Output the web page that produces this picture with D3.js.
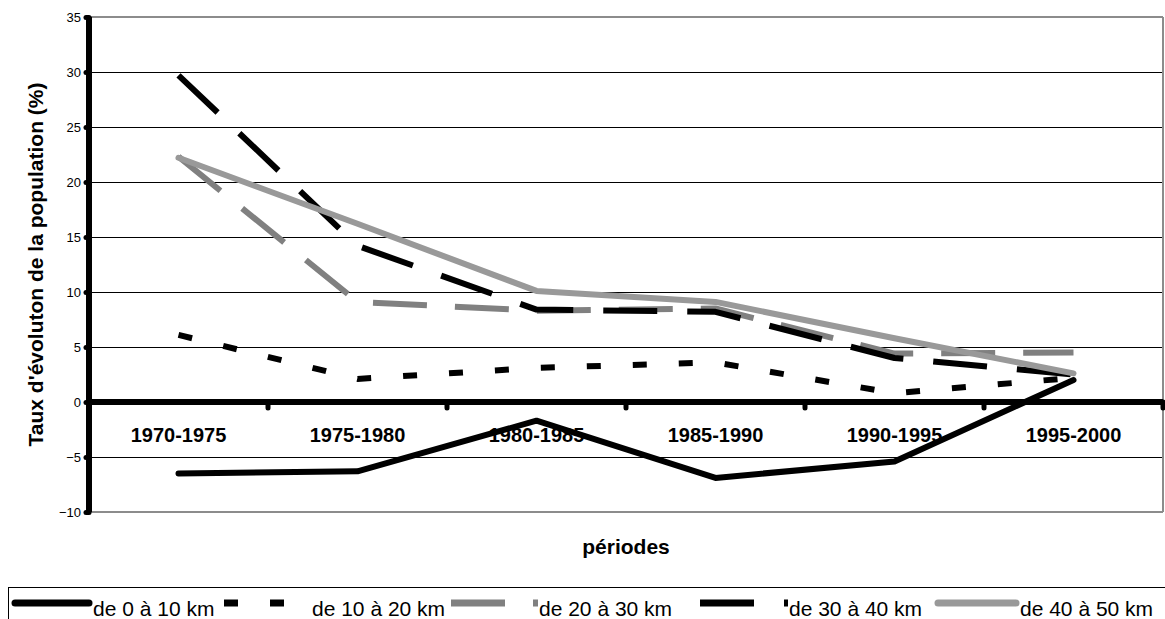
<!DOCTYPE html>
<html>
<head>
<meta charset="utf-8">
<script src="https://cdn.jsdelivr.net/npm/d3@7"></script>
<style>
  body { margin: 0; background: #fff; }
  svg { display: block; font-family: "Liberation Sans", Arial, sans-serif; }
</style>
</head>
<body>
<div id="chart"></div>
<script>
// data
const periods = ["1970-1975", "1975-1980", "1980-1985", "1985-1990", "1990-1995", "1995-2000"];
const seriesNames = ["de 0 à 10 km", "de 10 à 20 km", "de 20 à 30 km", "de 30 à 40 km", "de 40 à 50 km"];
const km0_10 = [-6.5, -6.3, -1.7, -6.9, -5.4, 2.0];
const km10_20 = [6.1, 2.1, 3.1, 3.6, 0.8, 2.2];
const km20_30 = [22.3, 9.1, 8.3, 8.5, 4.4, 4.5];
const km30_40 = [29.7, 14.2, 8.4, 8.2, 4.0, 2.5];
const km40_50 = [22.2, 16.2, 10.1, 9.1, 5.8, 2.6];
const yTicks = [-10, -5, 0, 5, 10, 15, 20, 25, 30, 35];

const width = 1165, height = 619;
const margin = { top: 17, right: 2, bottom: 107, left: 89 };

const styles = [
    { color: "#000", dash: null, cap: "round" },
    { color: "#000", dash: "14,32", cap: "butt" },
    { color: "#808080", dash: "54,28", cap: "butt" },
    { color: "#000", dash: "54,30", cap: "butt" },
    { color: "#999", dash: null, cap: "round" }
];
const allSeries = [km0_10, km10_20, km20_30, km30_40, km40_50];

const svg = d3.select("#chart").append("svg")
    .attr("width", width)
    .attr("height", height);

const x = d3.scaleBand()
    .domain(periods)
    .range([margin.left, width - margin.right]);

const y = d3.scaleLinear()
    .domain([-10, 35])
    .range([height - margin.bottom, margin.top]);

// grid lines
svg.append("g")
    .attr("shape-rendering", "crispEdges")
    .selectAll("line")
    .data(yTicks.filter(d => d > -10 && d < 35 && d != 0))
    .join("line")
    .attr("x1", margin.left)
    .attr("x2", width - margin.right)
    .attr("y1", d => Math.round(y(d)) + 0.5)
    .attr("y2", d => Math.round(y(d)) + 0.5)
    .attr("stroke", "#000")
    .attr("stroke-width", 1);

// plot frame (top, right, bottom) in grey
const frame = svg.append("g").attr("stroke", "#8c8c8c").attr("stroke-width", 2).attr("fill", "none");
frame.append("line").attr("x1", margin.left).attr("x2", width - margin.right).attr("y1", y(35)).attr("y2", y(35));
frame.append("line").attr("x1", margin.left).attr("x2", width - margin.right).attr("y1", y(-10)).attr("y2", y(-10));
frame.append("line").attr("x1", width - margin.right).attr("x2", width - margin.right).attr("y1", y(35)).attr("y2", y(-10));

// category labels (under the lines)
svg.append("g")
    .selectAll("text")
    .data(periods)
    .join("text")
    .attr("x", d => x(d) + x.bandwidth() / 2)
    .attr("y", y(0) + 40)
    .attr("text-anchor", "middle")
    .attr("font-size", 20)
    .attr("font-weight", "bold")
    .text(d => d);

// y axis
const yAxis = svg.append("g")
    .attr("transform", `translate(${margin.left},0)`)
    .call(d3.axisLeft(y).tickValues(yTicks).tickSize(3).tickPadding(5).tickSizeOuter(0));
yAxis.select(".domain").attr("stroke-width", 6).attr("d", `M0,${y(35)}V${y(-10)}`);
yAxis.selectAll(".tick line").attr("stroke-width", 5).attr("stroke-linecap", "round");
yAxis.selectAll(".tick text").attr("font-size", 13).attr("font-family", "Liberation Sans, Arial, sans-serif");

// x axis on zero line, ticks at category boundaries
const bounds = periods.map(p => x(p)).concat([x.range()[1]]);
const xAxis = svg.append("g");
xAxis.append("line")
    .attr("x1", margin.left)
    .attr("x2", width - margin.right)
    .attr("y1", y(0))
    .attr("y2", y(0))
    .attr("stroke", "#000")
    .attr("stroke-width", 6);
xAxis.selectAll(".xt")
    .data(bounds)
    .join("line")
    .attr("class", "xt")
    .attr("x1", d => d)
    .attr("x2", d => d)
    .attr("y1", y(0))
    .attr("y2", y(0) + 6)
    .attr("stroke", "#000")
    .attr("stroke-width", 5)
    .attr("stroke-linecap", "round");

// series lines
const line = d3.line()
    .x((d, i) => x(periods[i]) + x.bandwidth() / 2)
    .y(d => y(d));

svg.append("g")
    .selectAll("path")
    .data(allSeries)
    .join("path")
    .attr("d", d => line(d))
    .attr("fill", "none")
    .attr("stroke", (d, i) => styles[i].color)
    .attr("stroke-width", 6)
    .attr("stroke-dasharray", (d, i) => styles[i].dash)
    .attr("stroke-linecap", (d, i) => styles[i].cap)
    .attr("stroke-linejoin", "round");

// axis titles
svg.append("text")
    .attr("transform", `translate(43,${(y(35) + y(-10)) / 2}) rotate(-90)`)
    .attr("text-anchor", "middle")
    .attr("font-size", 21)
    .attr("font-weight", "bold")
    .text("Taux d'évoluton de la population (%)");

svg.append("text")
    .attr("x", (margin.left + width - margin.right) / 2)
    .attr("y", 554)
    .attr("text-anchor", "middle")
    .attr("font-size", 21)
    .attr("font-weight", "bold")
    .text("périodes");

// legend
const legend = svg.append("g");
legend.append("rect")
    .attr("x", 8.5)
    .attr("y", 587.5)
    .attr("width", 1170)
    .attr("height", 60)
    .attr("fill", "none")
    .attr("stroke", "#000")
    .attr("stroke-width", 1);

const legendX = [12, 224, 451, 700, 935];
const legendLen = [80, 87, 87, 88, 84];
const items = legend.selectAll(".item")
    .data(seriesNames)
    .join("g")
    .attr("class", "item")
    .attr("transform", (d, i) => `translate(${legendX[i]},603)`);

items.append("line")
    .attr("x1", (d, i) => styles[i].cap == "round" ? 3 : 0)
    .attr("x2", (d, i) => legendLen[i] - (styles[i].cap == "round" ? 3 : 0))
    .attr("stroke", (d, i) => styles[i].color)
    .attr("stroke-width", 7)
    .attr("stroke-dasharray", (d, i) => styles[i].dash)
    .attr("stroke-linecap", (d, i) => styles[i].cap);

items.append("text")
    .attr("x", (d, i) => legendLen[i] + 1)
    .attr("y", 13)
    .attr("font-size", 21)
    .text(d => d);
</script>
</body>
</html>
